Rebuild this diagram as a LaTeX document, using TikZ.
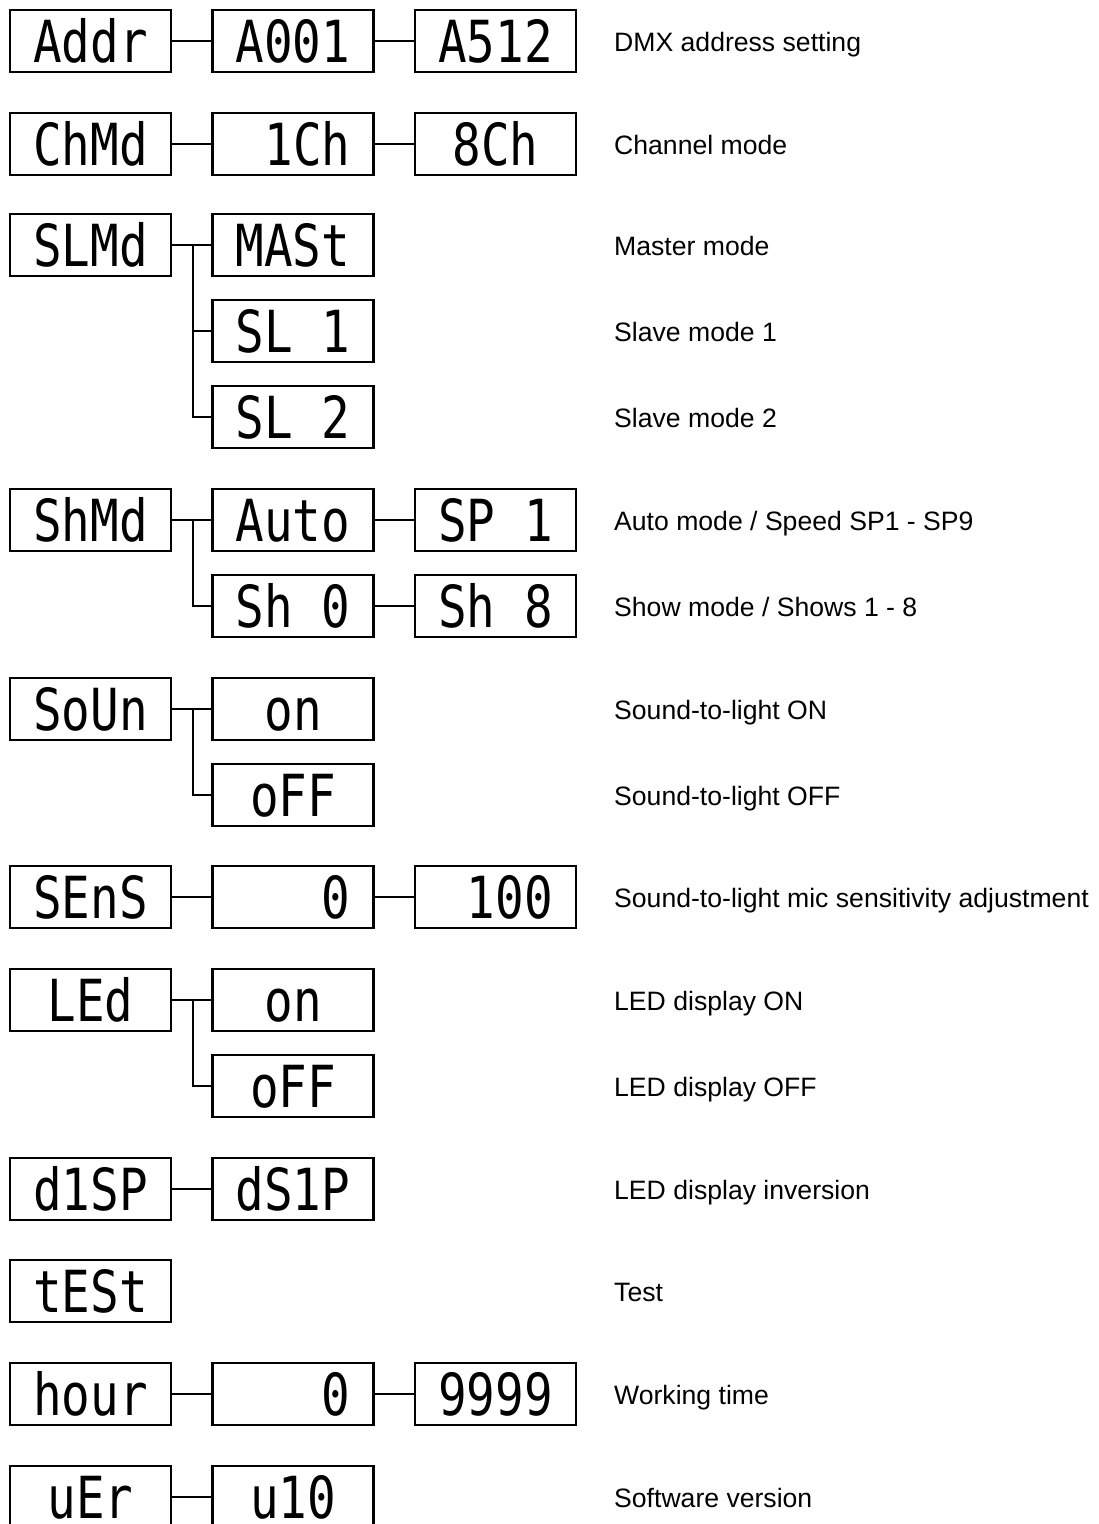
\documentclass[tikz,border=0pt]{standalone}
\usepackage{fontspec}
\setmainfont{Liberation Sans}
\newfontfamily\segfont[FakeStretch=0.82]{DejaVu Sans Mono}
\tikzset{
	afficheur/.style={draw, line width=2.2pt, minimum width=161pt, minimum height=62pt, inner sep=0pt, text height=43pt, text depth=0pt, font={\segfont\fontsize{58pt}{58pt}\selectfont}},
	legende/.style={anchor=base west, inner sep=0pt, font={\fontsize{26.6pt}{30pt}\selectfont}},
	lien/.style={line width=2.2pt}
}
\begin{document}
\begin{tikzpicture}[x=1pt, y=-1pt]
		\useasboundingbox (0,0) rectangle (1099,1524);
		%Afficheurs du menu, une ligne par fonction
		\node[afficheur] (Addr) at (90.5,41) {Addr};
		\node[afficheur] (AddrMin) at (293,41) {A001};
		\node[afficheur] (AddrMax) at (495.5,41) {A512};
		
		\node[afficheur] (ChMd) at (90.5,144) {ChMd};
		\node[afficheur] (Ch1) at (293,144) {~1Ch};
		\node[afficheur] (Ch8) at (495.5,144) {8Ch};
		
		\node[afficheur] (SLMd) at (90.5,245) {SLMd};
		\node[afficheur] (Mast) at (293,245) {MASt};
		\node[afficheur] (SL1) at (293,331) {SL~1};
		\node[afficheur] (SL2) at (293,417) {SL~2};
		
		\node[afficheur] (ShMd) at (90.5,520) {ShMd};
		\node[afficheur] (Auto) at (293,520) {Auto};
		\node[afficheur] (SP1) at (495.5,520) {SP~1};
		\node[afficheur] (Sh0) at (293,606) {Sh~0};
		\node[afficheur] (Sh8) at (495.5,606) {Sh~8};
		
		\node[afficheur] (SoUn) at (90.5,709) {SoUn};
		\node[afficheur] (SoOn) at (293,709) {on};
		\node[afficheur] (SoOff) at (293,795) {oFF};
		
		\node[afficheur] (SEnS) at (90.5,897) {SEnS};
		\node[afficheur] (Sens0) at (293,897) {~~~0};
		\node[afficheur] (Sens100) at (495.5,897) {~100};
		
		\node[afficheur] (LEd) at (90.5,1000) {LEd};
		\node[afficheur] (LEdOn) at (293,1000) {on};
		\node[afficheur] (LEdOff) at (293,1086) {oFF};
		
		\node[afficheur] (Disp) at (90.5,1189) {d1SP};
		\node[afficheur] (DispInv) at (293,1189) {dS1P};
		
		\node[afficheur] (Test) at (90.5,1291) {tESt};
		
		\node[afficheur] (Hour) at (90.5,1394) {hour};
		\node[afficheur] (Hour0) at (293,1394) {~~~0};
		\node[afficheur] (HourMax) at (495.5,1394) {9999};
		
		\node[afficheur] (Ver) at (90.5,1497) {uEr~};
		\node[afficheur] (Ver10) at (293,1497) {u10};
		%Points de branchement
		\coordinate (jSL) at (193,245);
		\coordinate (jSh) at (193,520);
		\coordinate (jSo) at (193,709);
		\coordinate (jLEd) at (193,1000);
		%Liaisons
		\draw[lien] (Addr) -- (AddrMin);
		\draw[lien] (AddrMin) -- (AddrMax);
		\draw[lien] (ChMd) -- (Ch1);
		\draw[lien] (Ch1) -- (Ch8);
		
		\draw[lien] (SLMd) -- (Mast);
		\draw[lien] (jSL) |- (SL1.west);
		\draw[lien] (jSL) |- (SL2.west);
		
		\draw[lien] (ShMd) -- (Auto);
		\draw[lien] (Auto) -- (SP1);
		\draw[lien] (jSh) |- (Sh0.west);
		\draw[lien] (Sh0) -- (Sh8);
		
		\draw[lien] (SoUn) -- (SoOn);
		\draw[lien] (jSo) |- (SoOff.west);
		
		\draw[lien] (SEnS) -- (Sens0);
		\draw[lien] (Sens0) -- (Sens100);
		
		\draw[lien] (LEd) -- (LEdOn);
		\draw[lien] (jLEd) |- (LEdOff.west);
		
		\draw[lien] (Disp) -- (DispInv);
		\draw[lien] (Hour) -- (Hour0);
		\draw[lien] (Hour0) -- (HourMax);
		\draw[lien] (Ver) -- (Ver10);
		%Légendes
		\node[legende] (tAddr) at (614,51) {DMX address setting};
		\node[legende] (tChMd) at (614,154) {Channel mode};
		\node[legende] (tMast) at (614,255) {Master mode};
		\node[legende] (tSL1) at (614,341) {Slave mode 1};
		\node[legende] (tSL2) at (614,427) {Slave mode 2};
		\node[legende] (tAuto) at (614,530) {Auto mode / Speed SP1 - SP9};
		\node[legende] (tShow) at (614,616) {Show mode / Shows 1 - 8};
		\node[legende] (tSoOn) at (614,719) {Sound-to-light ON};
		\node[legende] (tSoOff) at (614,805) {Sound-to-light OFF};
		\node[legende] (tSens) at (614,907) {Sound-to-light mic sensitivity adjustment};
		\node[legende] (tLEdOn) at (614,1010) {LED display ON};
		\node[legende] (tLEdOff) at (614,1096) {LED display OFF};
		\node[legende] (tDisp) at (614,1199) {LED display inversion};
		\node[legende] (tTest) at (614,1301) {Test};
		\node[legende] (tHour) at (614,1404) {Working time};
		\node[legende] (tVer) at (614,1507) {Software version};
	\end{tikzpicture}
\end{document}
